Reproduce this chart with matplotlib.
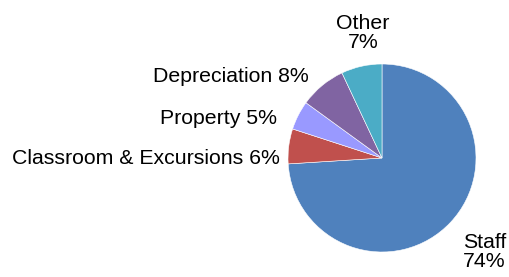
import matplotlib
matplotlib.use("Agg")
from matplotlib import pyplot as plt

categories = ["Staff", "Classroom & Excursions", "Property", "Depreciation", "Other"]
shares = [74, 6, 5, 8, 7]
colors = ["#4F81BD", "#C0504D", "#9999FF", "#8064A2", "#4BACC6"]

W, H = 510, 277
fig = plt.figure(figsize=(W / 100, H / 100), dpi=100)

# pie centre ~ (382, 158) px, radius ~ 94 px
cx, cy, r = 382, 158, 94
ax = fig.add_axes([(cx - r) / W, (H - cy - r) / H, 2 * r / W, 2 * r / H])
ax.pie(shares, colors=colors, startangle=90, counterclock=False,
       wedgeprops=dict(linewidth=0.4, edgecolor="white"))
ax.set_xlim(-1, 1)
ax.set_ylim(-1, 1)
ax.set_aspect("equal")
ax.axis("off")

fs = 15.3
font = "Liberation Sans"

def px(x, y):
    return x / W, 1 - y / H

# label positions (pixels), text built from the data
labels = {
    "Staff": (463, 252, "left", f"Staff\n{shares[0]}%"),
    "Classroom & Excursions": (280, 158, "right", f"Classroom & Excursions {shares[1]}%"),
    "Property": (277, 118, "right", f"Property {shares[2]}%"),
    "Depreciation": (309, 77, "right", f"Depreciation {shares[3]}%"),
    "Other": (363, 33, "center", f"Other\n{shares[4]}%"),
}
for name in categories:
    x, y, ha, txt = labels[name]
    fig.text(*px(x, y), txt, ha=ha, va="center", fontsize=fs,
             family=font, linespacing=1.05,
             multialignment="center" if ha == "center" else "left")

fig.savefig("out.png", dpi=100)
